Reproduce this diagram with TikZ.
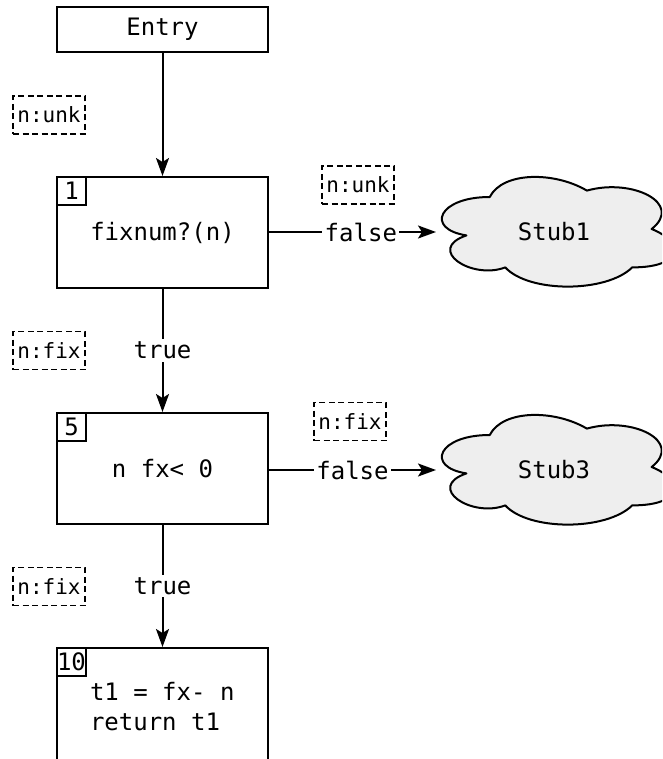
\documentclass[tikz,border=0pt]{standalone}
\usepackage{fontspec}
\usepackage{tikz}
\usetikzlibrary{arrows.meta}
\newfontfamily\cfgfont{DejaVu Sans Mono}

\begin{document}
\begin{tikzpicture}[x=1pt, y=-1pt, line width=2pt,
	blk/.style={draw, minimum width=211, minimum height=111, inner sep=0,
		font=\cfgfont\fontsize{24}{30}\selectfont},
	idx/.style={draw, minimum width=29, minimum height=28, inner sep=0,
		anchor=north west, font=\cfgfont\fontsize{24}{26}\selectfont},
	tag/.style={draw, dashed, dash pattern=on 6pt off 3.5pt, minimum width=72,
		minimum height=38, inner sep=0, line width=1.6pt,
		font=\cfgfont\fontsize{21}{24}\selectfont},
	stub/.style={draw, fill=gray!13, line join=round},
	lbl/.style={fill=white, inner sep=2.5pt, font=\cfgfont\fontsize{24}{26}\selectfont},
	arr/.style={-{Stealth[length=18pt, width=13pt, inset=4pt]}}]
	\clip (0,0) rectangle (662,759);
	\node [blk, minimum height=45] (entry) at (162.5,29.5) {Entry};
	\node [blk] (b1) at (162.5,232.5) {fixnum?(n)};
	\node [idx] (i1) at (b1.north west) {1};
	\node [blk] (b5) at (162.5,468.5) {n fx< 0};
	\node [idx] (i5) at (b5.north west) {5};
	\node [blk, minimum height=140] (b10) at (162.5,718) {};
	\node [idx] (i10) at (b10.north west) {10};
	\node [anchor=west, align=left, inner sep=0,
		font=\cfgfont\fontsize{24}{30}\selectfont] (t10) at (89,707) {t1 = fx- n\\return t1};
	% stub clouds
	\foreach \top in {165, 403} {
		\draw [stub, shift={(425,\top)}, x=259pt, y=-128pt]
			(0.25,0.25) .. controls (0.05,0.25) and (0,0.5) .. (0.16,0.55)
			.. controls (0,0.66) and (0.18,0.9) .. (0.31,0.8)
			.. controls (0.4,1) and (0.7,1) .. (0.8,0.8)
			.. controls (1,0.8) and (1,0.6) .. (0.875,0.5)
			.. controls (1,0.3) and (0.8,0.1) .. (0.625,0.2)
			.. controls (0.5,0.05) and (0.3,0.05) .. cycle;
	}
	\node [font=\cfgfont\fontsize{24}{26}\selectfont] (s1) at (554,232) {Stub1};
	\node [font=\cfgfont\fontsize{24}{26}\selectfont] (s3) at (554,470) {Stub3};
	\coordinate (s1w) at (436,232);
	\coordinate (s3w) at (436,470);
	% type tags
	\node [tag] (u0) at (49,115) {n:unk};
	\node [tag] (u1) at (358,185) {n:unk};
	\node [tag] (f1) at (49,350.5) {n:fix};
	\node [tag] (f2) at (350,421.5) {n:fix};
	\node [tag] (f3) at (49,586.5) {n:fix};
	% edges
	\draw [arr] (entry) -- (b1);
	\draw [arr] (b1) -- node [lbl] {true} (b5);
	\draw [arr] (b5) -- node [lbl] {true} (b10);
	\draw [arr] (b1.east |- s1w) -- node [lbl, pos=0.55] {false} (s1w);
	\draw [arr] (b5.east |- s3w) -- node [lbl] {false} (s3w);
\end{tikzpicture}
\end{document}
